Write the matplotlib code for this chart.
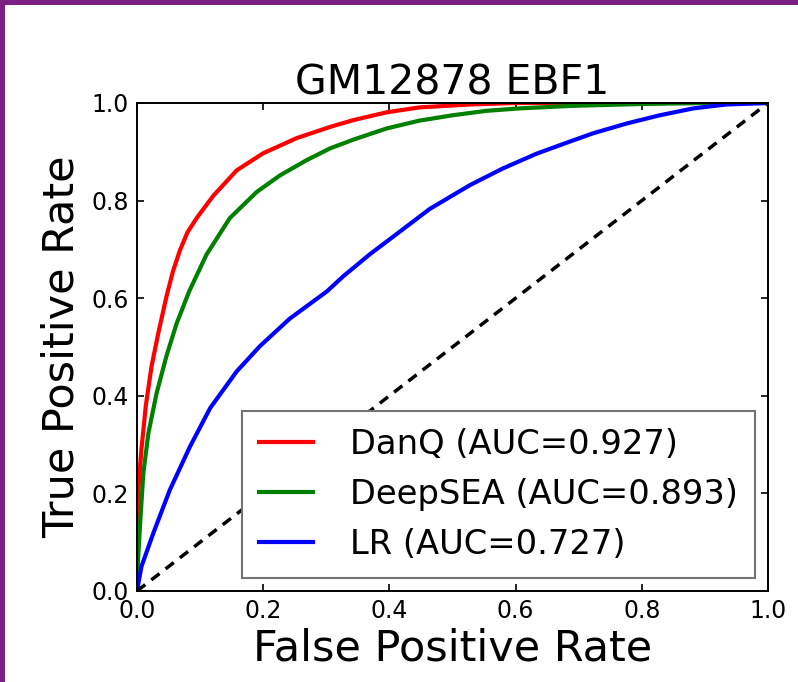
import matplotlib
matplotlib.use('Agg')
import matplotlib.pyplot as plt
from matplotlib.patches import Rectangle

# ROC curve points
danq_fpr = [0, 0.001, 0.002, 0.007, 0.014, 0.023, 0.034, 0.047, 0.057, 0.068, 0.08, 0.095,
            0.121, 0.158, 0.20, 0.253, 0.306, 0.343, 0.396, 0.448, 0.528, 0.60, 0.7, 0.8, 0.9, 1.0]
danq_tpr = [0, 0.1, 0.207, 0.29, 0.38, 0.46, 0.53, 0.605, 0.655, 0.698, 0.735, 0.765,
            0.81, 0.862, 0.897, 0.928, 0.951, 0.965, 0.981, 0.991, 0.997, 1.0, 1.0, 1.0, 1.0, 1.0]

deepsea_fpr = [0, 0.001, 0.005, 0.01, 0.018, 0.031, 0.047, 0.063, 0.083, 0.11, 0.147, 0.19,
               0.227, 0.269, 0.306, 0.343, 0.396, 0.448, 0.501, 0.554, 0.607, 0.686, 0.8, 0.9, 1.0]
deepsea_tpr = [0, 0.05, 0.139, 0.241, 0.323, 0.405, 0.483, 0.549, 0.615, 0.689, 0.764, 0.818,
               0.852, 0.883, 0.907, 0.925, 0.948, 0.964, 0.975, 0.984, 0.989, 0.994, 0.998, 1.0, 1.0]

lr_fpr = [0, 0.007, 0.026, 0.052, 0.084, 0.116, 0.158, 0.195, 0.242, 0.301, 0.327, 0.369,
          0.412, 0.464, 0.528, 0.58, 0.633, 0.686, 0.723, 0.776, 0.829, 0.882, 0.934, 1.0]
lr_tpr = [0, 0.05, 0.119, 0.207, 0.296, 0.375, 0.45, 0.502, 0.558, 0.614, 0.645, 0.69,
          0.732, 0.783, 0.832, 0.866, 0.896, 0.921, 0.938, 0.958, 0.975, 0.989, 0.997, 1.0]

labels = ['DanQ (AUC=0.927)', 'DeepSEA (AUC=0.893)', 'LR (AUC=0.727)']
colors = ['red', 'green', 'blue']
ticks = [0.0, 0.2, 0.4, 0.6, 0.8, 1.0]

fig = plt.figure(figsize=(7.98, 6.82), dpi=100, facecolor='white')
# purple slide frame along the top and left edges
frame = '#7b1f84'
fig.patches.append(Rectangle((0, 1 - 5 / 682), 1, 5 / 682, transform=fig.transFigure,
                             facecolor=frame, edgecolor='none'))
fig.patches.append(Rectangle((0, 0), 5 / 798, 1, transform=fig.transFigure,
                             facecolor=frame, edgecolor='none'))

ax = fig.add_axes([137 / 798, 1 - 591 / 682, 631 / 798, 488 / 682])

ax.plot(danq_fpr, danq_tpr, color=colors[0], lw=3, label=labels[0])
ax.plot(deepsea_fpr, deepsea_tpr, color=colors[1], lw=3, label=labels[1])
ax.plot(lr_fpr, lr_tpr, color=colors[2], lw=3, label=labels[2])
ax.plot([0, 1], [0, 1], color='black', lw=2.5, linestyle='--', dashes=(3, 2.2))

ax.set_xlim(0, 1)
ax.set_ylim(0, 1)
ax.set_xticks(ticks)
ax.set_yticks(ticks)
ax.tick_params(direction='in', top=True, right=True, length=5, width=1.2,
               labelsize=17, pad=6)
for sp in ax.spines.values():
    sp.set_linewidth(1.4)

ax.set_title('GM12878 EBF1', fontsize=29.5, pad=6)
ax.set_xlabel('False Positive Rate', fontsize=31, labelpad=3)
ax.set_ylabel('True Positive Rate', fontsize=31, labelpad=6)

leg = ax.legend(loc='lower right', fontsize=24.3, fancybox=False, framealpha=1,
                handlelength=1.6, handletextpad=1.1, labelspacing=0.5,
                borderaxespad=0.4, borderpad=0.5)
leg.get_frame().set_edgecolor('0.45')
leg.get_frame().set_linewidth(1.5)

fig.savefig('out.png', dpi=100)
